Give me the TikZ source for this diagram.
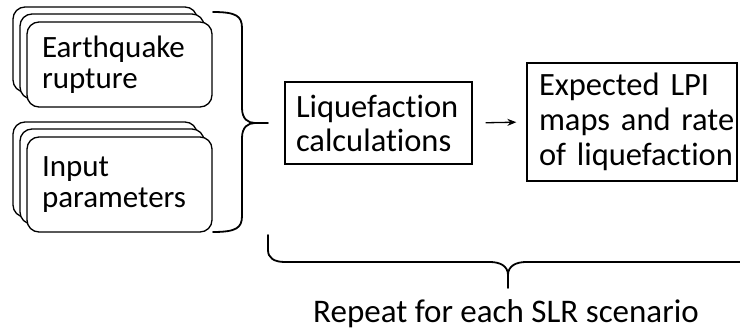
\documentclass[tikz,border=0pt]{standalone}
\usepackage{fontspec}
\setmainfont[Ligatures=NoCommon]{Carlito}
\usetikzlibrary{arrows.meta}
\begin{document}
\begin{tikzpicture}[x=1pt,y=-1pt,
  stackbox/.style={draw,line width=1.3pt,rounded corners=12pt,fill=white},
  frontbox/.style={stackbox,minimum width=185pt,text width=155pt,align=left,inner xsep=15pt,inner ysep=0pt,
    font=\fontsize{31}{31.5}\selectfont},
  plainbox/.style={draw,line width=1.3pt,inner ysep=0pt,align=left},
  brace/.style={line width=1.8pt,line cap=round}]
\useasboundingbox (0,0) rectangle (740,332);
% Earthquake stack
\draw[stackbox] (13,7) rectangle (197,92);
\draw[stackbox] (20,14) rectangle (204,99);
\node[frontbox,minimum height=85pt] (eq) at (119.5,64.5) {Earthquake\\rupture};
% Input stack
\draw[stackbox] (13,122) rectangle (197,217);
\draw[stackbox] (20,129) rectangle (204,224);
\node[frontbox,minimum height=95pt] (ip) at (119.5,184.5) {Input\\parameters};
% Liquefaction
\node[plainbox,font=\fontsize{32.5}{34}\selectfont,minimum width=187pt,minimum height=82pt,inner xsep=11pt,text width=165pt] (lq) at (378.5,123) {\mbox{Liquefaction}\\\mbox{calculations}};
% Expected
\node[plainbox,font=\fontsize{32.5}{35}\selectfont,minimum width=210pt,minimum height=118pt,inner xsep=12pt,text width=186pt] (ex) at (632,122) {\mbox{Expected LPI}\\\mbox{maps and rate}\\\mbox{of liquefaction}};
\draw[line width=1.3pt,-{Stealth[length=9pt,width=7pt]},shorten <=13pt,shorten >=10pt] (lq.east) -- (ex.west);
% Left brace
\coordinate (lbtip) at (268,123);
\draw[brace] (213,12) .. controls (236,12) and (242,16) .. (242,28) -- (242,108)
  .. controls (242,119) and (248,123) .. (255,123) -- (lbtip);
\draw[brace] (213,232) .. controls (236,232) and (242,228) .. (242,216) -- (242,138)
  .. controls (242,127) and (248,123) .. (255,123);
% Bottom brace
\coordinate (bbtip) at (508,288);
\draw[brace] (268,235) -- (268,250) .. controls (268,258) and (274,262) .. (285,262) -- (490,262)
  .. controls (500,262) and (508,266) .. (508,275) -- (bbtip);
\draw[brace] (508,275) .. controls (508,266) and (516,262) .. (526,262) -- (745,262);
\node[font=\fontsize{33}{35}\selectfont,anchor=base,inner sep=0pt] (rep) at (506,322) {Repeat for each SLR scenario};
\end{tikzpicture}
\end{document}
